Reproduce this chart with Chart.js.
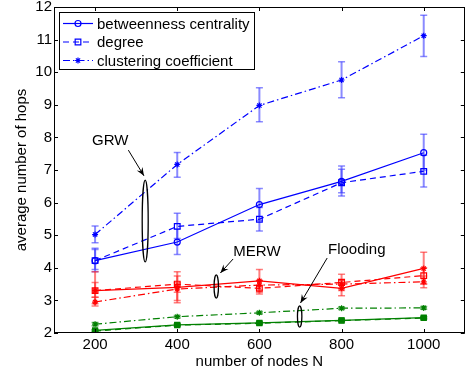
<!DOCTYPE html>
<html><head><meta charset="utf-8">
<script src="https://cdn.jsdelivr.net/npm/chart.js@4.4.1/dist/chart.umd.min.js"></script>
<style>html,body{margin:0;padding:0;background:#fff;}#wrap{width:470px;height:379px;}</style>
</head><body><div id="wrap"><canvas id="c" width="470" height="379"></canvas></div>
<script>
// ---------- data ----------
const nodes = [200, 400, 600, 800, 1000];
const xTickLabels = [200, 400, 600, 800, 1000];
const yTickLabels = [2, 3, 4, 5, 6, 7, 8, 9, 10, 11, 12];
const seriesNames = ['betweenness centrality', 'degree', 'clustering coefficient'];
const groupNames = ['GRW', 'MERW', 'Flooding'];

const grwBetweenness     = [4.22, 4.79, 5.94, 6.65, 7.53];
const grwBetweennessLow  = [3.88, 4.41, 5.45, 6.20, 7.00];
const grwBetweennessHigh = [4.56, 5.20, 6.43, 7.12, 8.10];
const grwDegree          = [4.22, 5.27, 5.49, 6.61, 6.96];
const grwDegreeLow       = [3.95, 4.90, 5.13, 6.30, 6.48];
const grwDegreeHigh      = [4.60, 5.67, 5.85, 7.02, 7.45];
const grwClustering      = [5.02, 7.17, 8.98, 9.76, 11.12];
const grwClusteringLow   = [4.77, 6.78, 8.48, 9.22, 10.48];
const grwClusteringHigh  = [5.28, 7.54, 9.52, 10.32, 11.75];

const merwBetweenness     = [3.30, 3.40, 3.60, 3.37, 3.98];
const merwBetweennessLow  = [2.90, 3.00, 3.25, 3.14, 3.50];
const merwBetweennessHigh = [3.88, 3.88, 3.95, 3.62, 4.48];
const merwDegree          = [3.30, 3.50, 3.37, 3.55, 3.76];
const merwDegreeLow       = [3.10, 3.25, 3.20, 3.35, 3.50];
const merwDegreeHigh      = [3.55, 3.75, 3.60, 3.80, 4.00];
const merwClustering      = [2.95, 3.35, 3.47, 3.50, 3.57];
const merwClusteringLow   = [2.83, 2.93, 3.32, 3.30, 3.39];
const merwClusteringHigh  = [3.10, 3.55, 3.62, 3.65, 3.75];

const floodBetweenness     = [2.08, 2.25, 2.31, 2.39, 2.47];
const floodBetweennessLow  = [2.05, 2.22, 2.28, 2.36, 2.44];
const floodBetweennessHigh = [2.11, 2.28, 2.34, 2.42, 2.50];
const floodDegree          = [2.06, 2.24, 2.30, 2.38, 2.46];
const floodDegreeLow       = [2.03, 2.21, 2.27, 2.35, 2.43];
const floodDegreeHigh      = [2.09, 2.27, 2.33, 2.41, 2.49];
const floodClustering      = [2.27, 2.50, 2.62, 2.76, 2.77];
const floodClusteringLow   = [2.22, 2.46, 2.58, 2.72, 2.73];
const floodClusteringHigh  = [2.32, 2.54, 2.66, 2.80, 2.81];

// ---------- styling ----------
const FONT = 'Liberation Sans, Arial, Helvetica, sans-serif';
const BLUE = '#0000ff', RED = '#ff0000', GREEN = '#008000';
const ERR = {blue: 'rgba(60,60,255,0.6)', red: 'rgba(255,40,40,0.6)', green: 'rgba(0,128,0,0.6)'};
const SOLID = [], DASH = [6, 4], DASHDOT = [7, 3, 1.5, 3];

function pts(arr) { return nodes.map((n, i) => ({x: n, y: arr[i]})); }
function ds(label, vals, lo, hi, color, errColor, dash, style, radius, fill, inLegend) {
  return {
    label, data: pts(vals), errLow: lo, errHigh: hi, errColor, inLegend,
    borderColor: color, backgroundColor: fill ? color : 'rgba(0,0,0,0)',
    borderWidth: 1.2, borderDash: dash, pointStyle: style, pointRadius: radius,
    pointBorderColor: color, pointBackgroundColor: fill ? color : 'rgba(0,0,0,0)',
    pointBorderWidth: 1.2, tension: 0, fill: false
  };
}

const datasets = [
  ds(seriesNames[0], grwBetweenness, grwBetweennessLow, grwBetweennessHigh, BLUE, ERR.blue, SOLID, 'circle', 3, false, true),
  ds(seriesNames[1], grwDegree, grwDegreeLow, grwDegreeHigh, BLUE, ERR.blue, DASH, 'rect', 4, false, true),
  ds(seriesNames[2], grwClustering, grwClusteringLow, grwClusteringHigh, BLUE, ERR.blue, DASHDOT, 'star', 3, false, true),
  ds(seriesNames[0], merwBetweenness, merwBetweennessLow, merwBetweennessHigh, RED, ERR.red, SOLID, 'star', 3, false, false),
  ds(seriesNames[1], merwDegree, merwDegreeLow, merwDegreeHigh, RED, ERR.red, DASH, 'rect', 4, false, false),
  ds(seriesNames[2], merwClustering, merwClusteringLow, merwClusteringHigh, RED, ERR.red, DASHDOT, 'star', 3, false, false),
  ds(seriesNames[0], floodBetweenness, floodBetweennessLow, floodBetweennessHigh, GREEN, ERR.green, SOLID, 'rect', 3.5, true, false),
  ds(seriesNames[1], floodDegree, floodDegreeLow, floodDegreeHigh, GREEN, ERR.green, DASH, 'rect', 3.5, false, false),
  ds(seriesNames[2], floodClustering, floodClusteringLow, floodClusteringHigh, GREEN, ERR.green, DASHDOT, 'star', 3, true, false)
];

// annotations (group label, text anchor, arrow start, arrow tip, ellipse centre x, ellipse y range, ellipse half-width px)
const annotations = [
  {text: groupNames[0], tx: 237, ty: 7.89, ax0: 281, ay0: 7.61, ax1: 319, ay1: 6.82, ex: 322, ey0: 4.18, ey1: 6.69, rx: 3},
  {text: groupNames[1], tx: 594, ty: 4.48, ax0: 536, ay0: 4.27, ax1: 505, ay1: 3.84, ex: 495, ey0: 3.07, ey1: 3.78, rx: 2.2},
  {text: groupNames[2], tx: 837, ty: 4.55, ax0: 765, ay0: 4.30, ax1: 700, ay1: 2.92, ex: 698, ey0: 2.18, ey1: 2.83, rx: 2.2}
];

function drawMarker(ctx, style, x, y, r, color, fill) {
  ctx.save();
  ctx.setLineDash([]);
  ctx.strokeStyle = color; ctx.fillStyle = color; ctx.lineWidth = 1.2;
  ctx.beginPath();
  if (style === 'circle') { ctx.arc(x, y, r, 0, Math.PI * 2); }
  else if (style === 'rect') { const s = r * Math.SQRT1_2; ctx.rect(x - s, y - s, 2 * s, 2 * s); }
  else if (style === 'star') {
    ctx.moveTo(x - r, y); ctx.lineTo(x + r, y); ctx.moveTo(x, y - r); ctx.lineTo(x, y + r);
    const d = r * Math.SQRT1_2;
    ctx.moveTo(x - d, y - d); ctx.lineTo(x + d, y + d); ctx.moveTo(x - d, y + d); ctx.lineTo(x + d, y - d);
  }
  if (fill) ctx.fill();
  ctx.stroke();
  ctx.restore();
}

const errorBars = {
  id: 'errorBars',
  beforeDatasetsDraw(chart) {
    const ctx = chart.ctx, ys = chart.scales.y, xs = chart.scales.x;
    ctx.save();
    chart.data.datasets.forEach(d => {
      ctx.strokeStyle = d.errColor;
      d.data.forEach((p, i) => {
        const x = xs.getPixelForValue(p.x);
        const y0 = ys.getPixelForValue(d.errLow[i]), y1 = ys.getPixelForValue(d.errHigh[i]);
        ctx.lineWidth = 2;
        ctx.beginPath(); ctx.moveTo(x, y0); ctx.lineTo(x, y1); ctx.stroke();
        ctx.lineWidth = 1.5;
        ctx.beginPath();
        ctx.moveTo(x - 3.5, y0); ctx.lineTo(x + 3.5, y0);
        ctx.moveTo(x - 3.5, y1); ctx.lineTo(x + 3.5, y1);
        ctx.stroke();
      });
    });
    ctx.restore();
  }
};

const frame = {
  id: 'frame',
  afterDraw(chart) {
    const ctx = chart.ctx, a = chart.chartArea, xs = chart.scales.x, ys = chart.scales.y;
    ctx.save();
    // annotations
    ctx.strokeStyle = '#000'; ctx.fillStyle = '#000'; ctx.setLineDash([]);
    annotations.forEach(an => {
      const cx = xs.getPixelForValue(an.ex);
      const yA = ys.getPixelForValue(an.ey0), yB = ys.getPixelForValue(an.ey1);
      ctx.lineWidth = 1.3;
      ctx.beginPath(); ctx.ellipse(cx, (yA + yB) / 2, an.rx, Math.abs(yA - yB) / 2, 0, 0, Math.PI * 2); ctx.stroke();
      const x0 = xs.getPixelForValue(an.ax0), y0 = ys.getPixelForValue(an.ay0);
      const x1 = xs.getPixelForValue(an.ax1), y1 = ys.getPixelForValue(an.ay1);
      ctx.lineWidth = 1;
      ctx.beginPath(); ctx.moveTo(x0, y0); ctx.lineTo(x1, y1); ctx.stroke();
      const ang = Math.atan2(y1 - y0, x1 - x0), L = 9, W = 0.38;
      ctx.beginPath();
      ctx.moveTo(x1, y1);
      ctx.lineTo(x1 - L * Math.cos(ang - W), y1 - L * Math.sin(ang - W));
      ctx.lineTo(x1 - L * 0.6 * Math.cos(ang), y1 - L * 0.6 * Math.sin(ang));
      ctx.lineTo(x1 - L * Math.cos(ang + W), y1 - L * Math.sin(ang + W));
      ctx.closePath(); ctx.fill();
      ctx.font = '15px ' + FONT; ctx.textAlign = 'center'; ctx.textBaseline = 'middle';
      ctx.fillText(an.text, xs.getPixelForValue(an.tx), ys.getPixelForValue(an.ty));
    });
    // box
    ctx.strokeStyle = '#000'; ctx.lineWidth = 1;
    ctx.strokeRect(Math.round(a.left) + 0.5, Math.round(a.top) + 0.5, Math.round(a.right - a.left) - 1, Math.round(a.bottom - a.top) - 1);
    // inward ticks
    ctx.beginPath();
    xTickLabels.forEach(v => {
      const x = Math.round(xs.getPixelForValue(v)) + 0.5;
      ctx.moveTo(x, a.bottom); ctx.lineTo(x, a.bottom - 4);
      ctx.moveTo(x, a.top); ctx.lineTo(x, a.top + 4);
    });
    yTickLabels.forEach(v => {
      const y = Math.round(ys.getPixelForValue(v)) + 0.5;
      ctx.moveTo(a.left, y); ctx.lineTo(a.left + 4, y);
      ctx.moveTo(a.right, y); ctx.lineTo(a.right - 4, y);
    });
    ctx.stroke();
    // legend
    const lx = a.left + 5, ly = a.top + 5, lw = 195, lh = 57;
    ctx.fillStyle = '#fff';
    ctx.fillRect(lx, ly, lw, lh);
    ctx.strokeStyle = '#000'; ctx.lineWidth = 1;
    ctx.strokeRect(lx + 0.5, ly + 0.5, lw, lh);
    ctx.font = '15px ' + FONT; ctx.textAlign = 'left'; ctx.textBaseline = 'middle';
    chart.data.datasets.filter(d => d.inLegend).forEach((d, i) => {
      const y = ly + 11.5 + i * 18.5;
      ctx.strokeStyle = d.borderColor; ctx.lineWidth = 1.2; ctx.setLineDash(d.borderDash);
      ctx.beginPath(); ctx.moveTo(lx + 4, y); ctx.lineTo(lx + 34, y); ctx.stroke();
      drawMarker(ctx, d.pointStyle, lx + 19, y, d.pointRadius, d.borderColor, false);
      ctx.setLineDash([]);
      ctx.fillStyle = '#000';
      ctx.fillText(d.label, lx + 38, y + 1);
    });
    ctx.restore();
  }
};

new Chart(document.getElementById('c'), {
  type: 'line',
  data: {datasets},
  plugins: [errorBars, frame],
  options: {
    responsive: false, animation: false, devicePixelRatio: 1,
    layout: {padding: {top: 7, right: 1, left: 0, bottom: 0}},
    plugins: {legend: {display: false}, tooltip: {enabled: false}},
    scales: {
      x: {
        type: 'linear', min: 100, max: 1100,
        afterBuildTicks: s => { s.ticks = xTickLabels.map(v => ({value: v})); },
        afterFit: s => { s.height = 46; s.paddingLeft = 0; s.paddingRight = 0; },
        ticks: {color: '#000', font: {family: FONT, size: 15}, padding: 3, maxRotation: 0, autoSkip: false, callback: v => String(v)},
        grid: {display: false, drawTicks: false},
        border: {display: false},
        title: {display: true, text: 'number of nodes N', color: '#000', font: {family: FONT, size: 15}, padding: {top: 0, bottom: 8}}
      },
      y: {
        type: 'linear', min: 2, max: 12,
        afterBuildTicks: s => { s.ticks = yTickLabels.map(v => ({value: v})); },
        afterFit: s => { s.width = 54; s.paddingTop = 0; s.paddingBottom = 0; },
        ticks: {color: '#000', font: {family: FONT, size: 15}, padding: 2, callback: v => String(v)},
        grid: {display: false, drawTicks: false},
        border: {display: false},
        title: {display: true, text: 'average number of hops', color: '#000', font: {family: FONT, size: 15}, padding: {top: 13, bottom: 0}}
      }
    }
  }
});
</script></body></html>
